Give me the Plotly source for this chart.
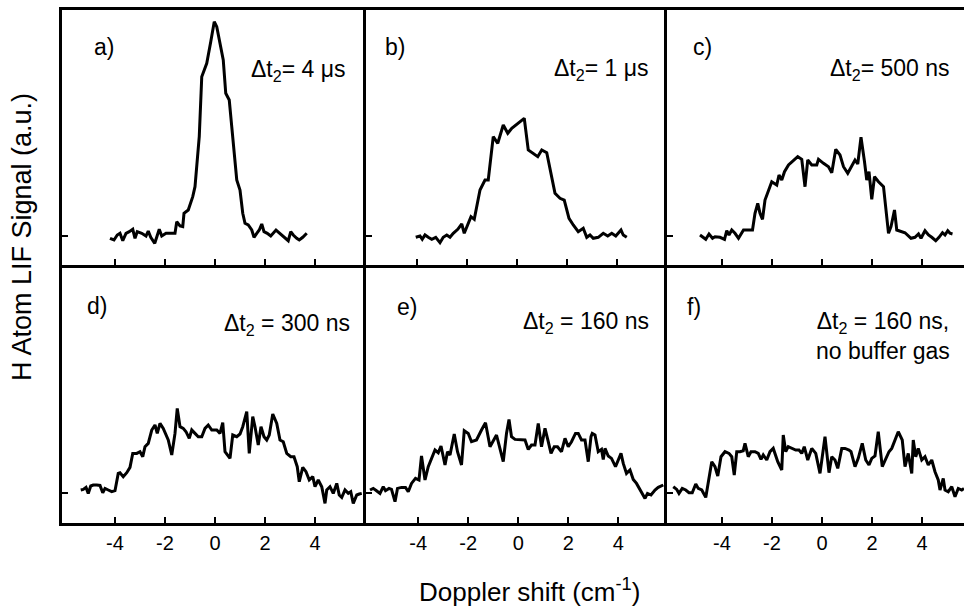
import plotly.graph_objects as go

# ---------------- data (Doppler shift in cm^-1, LIF signal in a.u.) ----------------
xa = [-4.2, -4.04, -3.91, -3.8, -3.69, -3.56, -3.43, -3.29, -3.2, -3.11, -2.93, -2.76, -2.67, -2.57, -2.41,
      -2.31, -2.23, -2.13, -1.96, -1.8, -1.6, -1.53, -1.4, -1.29, -1.24, -1.07, -0.89, -0.8, -0.71, -0.63,
      -0.53, -0.33, -0.17, -0.03, 0.07, 0.33, 0.43, 0.57, 0.67, 0.76, 0.87, 1.0, 1.11, 1.2, 1.33, 1.47,
      1.56, 1.67, 1.77, 1.87, 1.96, 2.09, 2.23, 2.44, 2.6, 2.73, 2.93, 3.03, 3.13, 3.27, 3.37, 3.51, 3.67]
ya = [-2.3, -4, 1, 2.7, -4.7, 2.7, 4.3, 6.7, -2.3, 4.3, 2.7, 0, 5, -1.3, -7.3,
      0, 6.7, 0, 2.7, 2.7, 2.7, 14.3, 10, 9.3, 22.7, 26, 39.3, 49.3, 76, 99.3,
      159.3, 172.7, 194.3, 214.3, 209.3, 176, 142.7, 136, 109.3, 82.7, 56, 46, 22.7, 12.7, 11, 6,
      -1.3, 2.7, 6, 12, 4.3, 2.7, 0, 6, 2.7, 0, -4.7, 4.3, 1, -2.3, -4, -1.3, 2.7]

xb = [-4.05, -3.88, -3.79, -3.68, -3.55, -3.41, -3.25, -3.08, -2.95, -2.81, -2.68, -2.55, -2.37, -2.21,
      -2.11, -2.01, -1.84, -1.71, -1.57, -1.48, -1.28, -1.15, -0.95, -0.77, -0.55, -0.37, -0.21, 0.05,
      0.29, 0.45, 0.65, 0.83, 0.99, 1.19, 1.52, 1.72, 1.89, 2.08, 2.25, 2.45, 2.65, 2.79, 2.92, 3.05,
      3.25, 3.45, 3.63, 3.79, 3.95, 4.16, 4.25, 4.39]
yb = [-1.3, 0, -3.3, 1, -1.3, -3.3, -1.3, -6.7, -1.3, 1, -1.3, 2.7, 6.7, 12,
      2.7, 9.3, 19.3, 16.7, 32.7, 46, 56, 56, 99.3, 92.7, 111, 102.7, 107.7, 112.7,
      117.7, 86, 82, 79.3, 86, 83.3, 42.7, 37.7, 36, 17.7, 11, 4.3, 7.7, -1.3, 1, -2.3,
      -1.3, 2.7, 0, 2.7, 0, 6, 1, -1.3]

xc = [-4.87, -4.73, -4.64, -4.51, -4.37, -4.27, -4.07, -3.89, -3.8, -3.71, -3.6, -3.47, -3.33, -3.13,
      -2.93, -2.77, -2.67, -2.56, -2.47, -2.37, -2.27, -2.11, -2.0, -1.8, -1.71, -1.6, -1.49, -1.33,
      -1.13, -0.96, -0.8, -0.67, -0.56, -0.4, -0.2, -0.13, 0.07, 0.27, 0.4, 0.56, 0.73, 0.87, 1.04,
      1.2, 1.33, 1.44, 1.57, 1.71, 1.8, 1.89, 2.0, 2.11, 2.27, 2.47, 2.6, 2.67, 2.77, 2.91, 3.0,
      3.2, 3.33, 3.57, 3.73, 3.87, 3.97, 4.13, 4.27, 4.4, 4.56, 4.69, 4.83, 4.93, 5.04, 5.13, 5.23]
yc = [1, -1.3, -3.3, 2, -2.3, -0.7, -1.3, -3.3, 5.3, 1, 6, 2.7, -2.3, 6,
      6, 6, 22.7, 32.7, 22.7, 16.7, 36, 46.7, 54.3, 51, 61, 56, 64.3, 71,
      76, 79.3, 76.7, 49.3, 76, 71, 71, 76.7, 72.7, 69.3, 63.3, 86.7, 81, 69.3, 62.7,
      69.3, 76, 72, 98.7, 74.3, 56, 64.3, 36.7, 59.3, 54.3, 49.3, 22.7, 2.7, 9.3, 26, 6,
      4.3, 3.3, -2.3, -1.3, 2, -2.3, 5.3, 1, -1.3, -4.7, -1.3, 3.3, 1, 5.3, 2.7, 2]

xd = [-5.37, -5.27, -5.16, -5.07, -4.97, -4.87, -4.73, -4.6, -4.49, -4.4, -4.27, -4.13, -4.0, -3.87,
      -3.8, -3.67, -3.53, -3.4, -3.29, -3.13, -3.0, -2.89, -2.8, -2.67, -2.53, -2.4, -2.31, -2.2,
      -2.07, -1.96, -1.87, -1.73, -1.6, -1.51, -1.4, -1.27, -1.16, -1.03, -0.93, -0.8, -0.67, -0.53,
      -0.4, -0.27, -0.13, 0.07, 0.2, 0.31, 0.4, 0.6, 0.71, 0.87, 1.0, 1.11, 1.27, 1.37, 1.51, 1.6,
      1.73, 1.84, 1.96, 2.07, 2.17, 2.31, 2.47, 2.6, 2.73, 2.87, 3.03, 3.16, 3.29, 3.37, 3.51, 3.64,
      3.77, 3.91, 4.0, 4.13, 4.27, 4.4, 4.47, 4.6, 4.73, 4.87, 4.97, 5.07, 5.2, 5.33, 5.43, 5.53,
      5.67, 5.77, 5.87]
yd = [2.7, 3.3, 5.3, -0.7, 6.7, 7.7, 7.7, 7.3, 0, 4.3, 2.7, 1, 2, 19.3,
      20, 16, 20, 25.3, 39.3, 39.3, 41, 36, 46, 49.3, 62.7, 67.7, 59.3, 69.3,
      64.3, 57.7, 52.7, 37.7, 59.3, 84.3, 66, 64.3, 61, 54.3, 62.7, 59.3, 56, 56,
      64.3, 67.7, 62.7, 62.7, 59.3, 70, 41, 34.3, 57.7, 56, 58.7, 66, 81, 39.3, 76, 66,
      47.7, 66, 56, 52.7, 57.7, 78.7, 69.3, 52.7, 51, 39.3, 36, 36, 26, 11, 25.3, 21,
      12.7, 16, 6, 12.7, 6, -10.7, 2.7, 6, -0.7, 9.3, -2.3, -4.7, 2.7, -0.7, 1, -10.7,
      -2.3, -1.3, -0.7]

xe = [-5.93, -5.8, -5.67, -5.53, -5.4, -5.31, -5.17, -5.07, -4.93, -4.83, -4.67, -4.51, -4.4, -4.27,
      -4.11, -3.97, -3.87, -3.73, -3.6, -3.47, -3.33, -3.2, -3.09, -2.93, -2.83, -2.73, -2.56, -2.43,
      -2.27, -2.16, -2.0, -1.87, -1.67, -1.47, -1.31, -1.13, -1.0, -0.87, -0.6, -0.47, -0.37, -0.27,
      -0.13, 0.13, 0.27, 0.4, 0.53, 0.67, 0.8, 0.93, 1.07, 1.2, 1.31, 1.44, 1.57, 1.73, 1.87, 2.0,
      2.13, 2.29, 2.4, 2.53, 2.67, 2.8, 2.91, 2.96, 3.07, 3.2, 3.33, 3.4, 3.47, 3.6, 3.73, 3.89,
      4.0, 4.11, 4.2, 4.33, 4.47, 4.6, 4.73, 4.8, 4.93, 5.07, 5.17, 5.31, 5.47, 5.6, 5.8]
ye = [2.7, 4.3, 2, -0.7, 6, 2, 4.3, 3.3, -9, 4.3, 5.3, 5.3, 1, 9.3,
      14.3, 12.7, 36.7, 12.7, 26, 33.3, 42.7, 40, 46.7, 27.7, 41, 37.7, 58.7, 41,
      27.7, 62, 59.3, 51, 52.7, 62.7, 70, 46, 52.7, 57.7, 31, 59.3, 73.3, 56,
      53.3, 53.3, 52.7, 43.3, 47.7, 47.7, 69.3, 46, 64.3, 51, 39.3, 46, 46, 41, 54.3, 46,
      51, 59.3, 59.3, 52.7, 52.7, 31, 56, 59.3, 57.7, 41, 43.3, 33.3, 44.3, 36.7, 34.3, 26,
      32.7, 39.3, 29.3, 19.3, 22.7, 13.3, 9.3, 6, 1, -5.7, -0.7, -2.3, 2.7, 5.3, 7.7]

xf = [-5.95, -5.81, -5.72, -5.59, -5.45, -5.32, -5.19, -5.05, -4.95, -4.81, -4.65, -4.52, -4.41, -4.28,
      -4.17, -4.04, -3.88, -3.72, -3.61, -3.51, -3.41, -3.28, -3.15, -3.08, -2.95, -2.84, -2.68, -2.55,
      -2.44, -2.35, -2.21, -2.08, -1.95, -1.77, -1.61, -1.55, -1.45, -1.35, -1.21, -1.05, -0.92, -0.81,
      -0.71, -0.57, -0.41, -0.25, -0.08, -0.01, 0.12, 0.28, 0.39, 0.52, 0.63, 0.79, 0.92, 1.08, 1.16,
      1.32, 1.45, 1.61, 1.75, 1.88, 1.99, 2.12, 2.25, 2.41, 2.55, 2.68, 2.79, 3.05, 3.21, 3.32, 3.45,
      3.59, 3.65, 3.75, 3.85, 3.99, 4.12, 4.25, 4.39, 4.52, 4.65, 4.72, 4.85, 4.92, 5.05, 5.19, 5.32,
      5.45, 5.59, 5.68]
yf = [6, 3.3, -0.7, 4.3, 2.7, 0, 0, 8.7, 4.3, 2.7, -4.7, 14.3, 31, 26,
      16.7, 36, 41, 39.3, 36, 17.7, 41, 41, 42, 49.3, 36, 41, 41, 39.3,
      33.3, 37.7, 32.7, 41, 44.3, 31, 22.7, 57.7, 41, 46, 44.3, 42.7, 42.7, 39.3,
      46, 32.7, 44.3, 39.3, 19.3, 32.7, 56, 20, 36, 32.7, 24.3, 44.3, 44.3, 42.7, 41,
      26, 34.3, 49.3, 32.7, 27.7, 34.3, 36.7, 61, 26, 34.3, 41, 44.3, 61, 52.7, 26, 39.3,
      19.3, 52.7, 36, 44.3, 32.7, 36, 27.7, 32.7, 21, 12.7, 2.7, 14.3, 2.7, 1, 6, -4,
      4.3, 2.7, 4.3]

panel_letters = ["a)", "b)", "c)", "d)", "e)", "f)"]
panel_delays = ["Δt<sub>2</sub>= 4 μs", "Δt<sub>2</sub>= 1 μs", "Δt<sub>2</sub>= 500 ns",
                "Δt<sub>2</sub> = 300 ns", "Δt<sub>2</sub> = 160 ns",
                "Δt<sub>2</sub> = 160 ns,<br>no buffer gas"]
x_ticks = [-4, -2, 0, 2, 4]
x_tick_labels = ["-4", "-2", "0", "2", "4"]
y_ticks = [0]

# ---------------- figure ----------------
series = [(xa, ya), (xb, yb), (xc, yc), (xd, yd), (xe, ye), (xf, yf)]

FONT = "Liberation Sans, Arial, Helvetica, sans-serif"
W, H = 964, 610
ML, MR, MT, MB = 62, 0, 10, 87
PW = W - ML - MR
PH = H - MT - MB

def px_x(p):
    return (p - ML) / PW

def px_y(p):
    return (H - MB - p) / PH

col_edges = [62, 366, 667, 964]
row_mid = px_y(265)
x_domains = [[px_x(col_edges[i]), px_x(col_edges[i + 1])] for i in range(3)]
y_domains = [[row_mid, 1.0], [0.0, row_mid]]
x_ranges = [[-6.12, 6.04], [-6.04, 6.0], [-6.19, 5.69],
            [-6.12, 6.04], [-6.09, 5.95], [-6.2, 5.68]]
y_ranges = [[-29, 226], [-30.3, 227.7]]

fig = go.Figure()
layout = dict(
    width=W, height=H,
    margin=dict(l=ML, r=MR, t=MT, b=MB, pad=0),
    paper_bgcolor="white", plot_bgcolor="white",
    showlegend=False,
    font=dict(family=FONT, color="black"),
)

annotations = []
letter_pos = [(-4.44, 189), (-4.88, 189), (-4.79, 189), (-4.72, 187), (-4.45, 186), (-5.12, 186)]
delay_pos = [(5.28, 166, "right"), (5.32, 167, "right"), (5.21, 167, "right"),
             (5.48, 168, "right"), (5.3, 170, "right"), (2.44, 157, "center")]

for i, (xs, ys) in enumerate(series):
    n = i + 1
    row, col = divmod(i, 3)
    xname = "xaxis" if n == 1 else f"xaxis{n}"
    yname = "yaxis" if n == 1 else f"yaxis{n}"
    xref = "x" if n == 1 else f"x{n}"
    yref = "y" if n == 1 else f"y{n}"
    fig.add_trace(go.Scatter(x=xs, y=ys, mode="lines", xaxis=xref, yaxis=yref,
                             line=dict(color="black", width=3), hoverinfo="skip"))
    layout[xname] = dict(
        domain=x_domains[col], anchor=yref, range=x_ranges[i],
        showline=True, linecolor="black", linewidth=2.5, mirror=(row == 0),
        ticks="inside", ticklen=6, tickwidth=1.5, tickcolor="black",
        tickvals=x_ticks, ticktext=x_tick_labels,
        showticklabels=(row == 1),
        tickfont=dict(family=FONT, size=20, color="black"),
        showgrid=False, zeroline=False, fixedrange=True,
    )
    layout[yname] = dict(
        domain=y_domains[row], anchor=xref, range=y_ranges[row],
        showline=True, linecolor="black", linewidth=2.5, mirror=False,
        ticks="inside", ticklen=6, tickwidth=1.5, tickcolor="black",
        tickvals=y_ticks, showticklabels=False,
        showgrid=False, zeroline=False, fixedrange=True,
    )
    lx, ly = letter_pos[i]
    annotations.append(dict(x=lx, y=ly, xref=xref, yref=yref, text=panel_letters[i],
                            showarrow=False, xanchor="center", yanchor="middle",
                            font=dict(family=FONT, size=23, color="black")))
    dx, dy, anc = delay_pos[i]
    annotations.append(dict(x=dx, y=dy, xref=xref, yref=yref, text=panel_delays[i],
                            showarrow=False, xanchor=anc, yanchor="middle", align="center",
                            font=dict(family=FONT, size=23, color="black")))

annotations.append(dict(x=px_x(529), y=px_y(590), xref="paper", yref="paper",
                        text="Doppler shift (cm<sup>-1</sup>)", showarrow=False,
                        xanchor="center", yanchor="middle",
                        font=dict(family=FONT, size=26, color="black")))
annotations.append(dict(x=px_x(22), y=px_y(237), xref="paper", yref="paper",
                        text="H Atom LIF Signal (a.u.)", showarrow=False,
                        xanchor="center", yanchor="middle", textangle=-90,
                        font=dict(family=FONT, size=27, color="black")))

layout["annotations"] = annotations
fig.update_layout(**layout)
fig.write_html("out.html",
               config={"displayModeBar": False},
               post_script="document.body.style.margin='0';document.body.style.overflow='hidden';")
